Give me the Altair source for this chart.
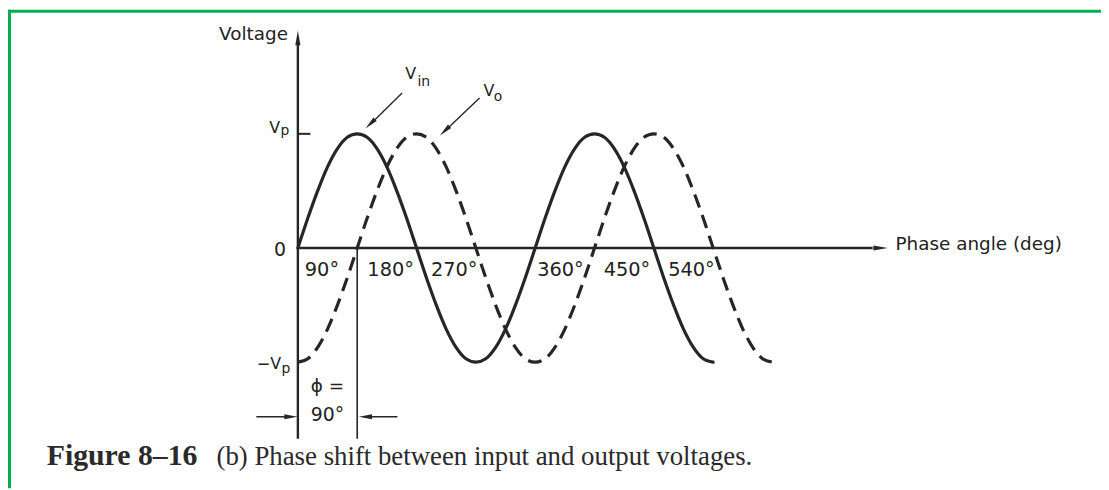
import altair as alt
import pandas as pd

# ---------------- data ----------------
phase_in = [0, 15, 30, 45, 60, 75, 90, 105, 120, 135, 150, 165, 180, 195, 210, 225,
            240, 255, 270, 285, 300, 315, 330, 345, 360, 375, 390, 405, 420, 435, 450,
            465, 480, 495, 510, 525, 540, 555, 570, 585, 600, 615, 630]
v_in = [0, 0.26, 0.5, 0.71, 0.87, 0.97, 1, 0.97, 0.87, 0.71, 0.5, 0.26, 0, -0.26, -0.5,
        -0.71, -0.87, -0.97, -1, -0.97, -0.87, -0.71, -0.5, -0.26, 0, 0.26, 0.5, 0.71,
        0.87, 0.97, 1, 0.97, 0.87, 0.71, 0.5, 0.26, 0, -0.26, -0.5, -0.71, -0.87, -0.97, -1]

phase_out = [0, 15, 30, 45, 60, 75, 90, 105, 120, 135, 150, 165, 180, 195, 210, 225,
             240, 255, 270, 285, 300, 315, 330, 345, 360, 375, 390, 405, 420, 435, 450,
             465, 480, 495, 510, 525, 540, 555, 570, 585, 600, 615, 630, 645, 660, 675,
             690, 705, 720]
v_out = [-1, -0.97, -0.87, -0.71, -0.5, -0.26, 0, 0.26, 0.5, 0.71, 0.87, 0.97, 1, 0.97,
         0.87, 0.71, 0.5, 0.26, 0, -0.26, -0.5, -0.71, -0.87, -0.97, -1, -0.97, -0.87,
         -0.71, -0.5, -0.26, 0, 0.26, 0.5, 0.71, 0.87, 0.97, 1, 0.97, 0.87, 0.71, 0.5,
         0.26, 0, -0.26, -0.5, -0.71, -0.87, -0.97, -1]

tick_labels = ["90°", "180°", "270°", "360°", "450°", "540°"]
tick_label_pos = [10.5, 105.4, 201.8, 363.0, 463.9, 561.7]   # degrees (left edge of label)

caption_bold = "Figure 8–16"
caption_rest = "(b) Phase shift between input and output voltages."

# ---------------- layout / scales ----------------
W, H = 1101, 482
PX_PER_DEG = 0.664
PX_PER_V = 115.0
ORIGIN_X, ORIGIN_Y = 292, 240
X_DOMAIN = [-ORIGIN_X / PX_PER_DEG, (W - ORIGIN_X) / PX_PER_DEG]
Y_DOMAIN = [-(H - ORIGIN_Y) / PX_PER_V, ORIGIN_Y / PX_PER_V]

INK = "#262626"
TXT = "#222222"
GREEN = "#00b050"
SANS = "DejaVu Sans"
SERIF = "Liberation Serif"

xs = alt.Scale(domain=X_DOMAIN, nice=False, zero=False)
ys = alt.Scale(domain=Y_DOMAIN, nice=False, zero=False)


def X(f="deg"):
    return alt.X(f"{f}:Q", scale=xs, axis=None)


def Y(f="v"):
    return alt.Y(f"{f}:Q", scale=ys, axis=None)


# curves
vin_line = alt.Chart(pd.DataFrame({"deg": phase_in, "v": v_in})).mark_line(
    color=INK, strokeWidth=3.2, interpolate="monotone", strokeCap="round"
).encode(x=X(), y=Y())

vout_line = alt.Chart(pd.DataFrame({"deg": phase_out, "v": v_out})).mark_line(
    color=INK, strokeWidth=3.2, interpolate="monotone", strokeDash=[14, 8]
).encode(x=X(), y=Y())

# axes, ticks and annotation shafts (in degrees / volts)
segments = pd.DataFrame([
    dict(deg=0, deg2=0, v=-1.67, v2=1.80, w=2.4),          # y axis
    dict(deg=0, deg2=872, v=0, v2=0, w=2.4),               # x axis
    dict(deg=0, deg2=19, v=1, v2=1, w=2),                  # Vp tick
    dict(deg=90, deg2=90, v=0, v2=-1.67, w=1.6),           # 90° marker
    dict(deg=-63, deg2=-9, v=-1.478, v2=-1.478, w=1.5),    # phase arrow left
    dict(deg=101, deg2=151, v=-1.478, v2=-1.478, w=1.5),   # phase arrow right
    dict(deg=158.1, deg2=110, v=1.357, v2=1.085, w=1.4),   # Vin arrow
    dict(deg=275.6, deg2=223, v=1.313, v2=1.025, w=1.4),   # Vo arrow
])
rules = alt.Chart(segments).mark_rule(color=INK).encode(
    x=X("deg"), x2="deg2:Q", y=Y("v"), y2="v2:Q", size=alt.Size("w:Q", scale=None)
)

heads = pd.DataFrame(dict(
    deg=[0, 884, -10.5, 102.4, 109.8, 222.8],
    v=[1.84, 0, -1.478, -1.478, 1.088, 1.026],
    angle=[0, 90, 90, 270, 226, 226.5],
    s=[210, 210, 180, 180, 180, 180],
))
ARROW = "M0,-1L0.36,1L-0.36,1Z"
arrowheads = alt.Chart(heads).mark_point(
    shape=ARROW, filled=True, color=INK, opacity=1
).encode(
    x=X("deg"), y=Y("v"), angle=alt.Angle("angle:Q", scale=None),
    size=alt.Size("s:Q", scale=None)
)


def label(text, deg, v, size=18, align="left", font=SANS, weight="normal", color=TXT):
    return alt.Chart(pd.DataFrame({"deg": [deg], "v": [v], "t": [text]})).mark_text(
        align=align, baseline="alphabetic", fontSize=size, font=font,
        fontWeight=weight, color=color
    ).encode(x=X(), y=Y(), text="t:N")


tick_text = alt.Chart(pd.DataFrame({"deg": tick_label_pos, "t": tick_labels})).mark_text(
    align="left", baseline="alphabetic", fontSize=19.5, font=SANS, color=TXT
).encode(x=X(), y=alt.Y("v:Q", scale=ys, axis=None), text="t:N").transform_calculate(v="-0.2435")

texts = [
    label("Voltage", -15.06, 1.826, size=18.5, align="right"),
    label("Phase angle (deg)", 906.6, -0.0174, size=18.5),
    label("0", -18.07, -0.0696, size=19),
    label("V", -27.1, 1.0087, size=16, align="right"),
    label("p", -26.4, 0.991, size=14),
    label("−V", -25.6, -1.061, size=16, align="right"),
    label("p", -24.8, -1.096, size=14),
    label("V", 162.7, 1.478, size=16),
    label("in", 181.5, 1.417, size=14),
    label("V", 281.6, 1.33, size=16),
    label("o", 297.0, 1.287, size=14),
    label("ϕ =", 19.6, -1.261, size=18.5),
    label("90°", 19.6, -1.513, size=19),
    label(caption_bold, -381.0, -1.904, size=30, font=SERIF, weight="bold", color="#2a2a2a"),
    label(caption_rest, -123.5, -1.904, size=27, font=SERIF, color="#2a2a2a"),
]
texts[2] = label("0", -18.07, -0.0696, size=19, align="right")

one = pd.DataFrame({"a": [0]})
border_top = alt.Chart(one).mark_rule(color=GREEN, strokeWidth=3).encode(
    x=alt.value(0), x2=alt.value(W), y=alt.value(1.5)
)
border_left = alt.Chart(one).mark_rule(color=GREEN, strokeWidth=3).encode(
    x=alt.value(1.5), y=alt.value(0), y2=alt.value(H)
)

chart = alt.layer(
    border_top, border_left, rules, arrowheads, vin_line, vout_line, tick_text, *texts
).properties(
    width=W, height=H, autosize=alt.AutoSizeParams(type="none"), padding=0,
    background="white"
).configure_view(stroke=None)

chart.save("out.html", embed_options={"renderer": "svg", "actions": False})
